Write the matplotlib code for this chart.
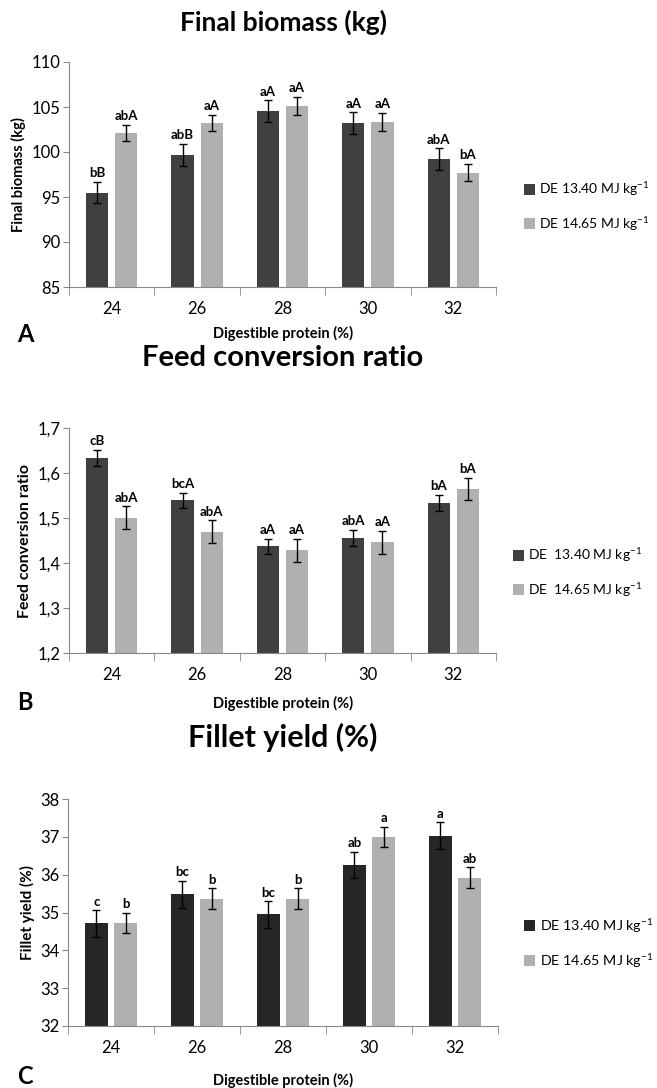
import numpy as np
import matplotlib.pyplot as plt

plt.rcParams['font.family'] = ['Lato', 'DejaVu Sans']
plt.rcParams['mathtext.fontset'] = 'custom'
plt.rcParams['mathtext.rm'] = 'Lato'
plt.rcParams['mathtext.bf'] = 'Lato:bold'

protein = ['24', '26', '28', '30', '32']

# A - final biomass
bio_13 = [95.5, 99.7, 104.55, 103.2, 99.2]
bio_13_err = [1.2, 1.2, 1.2, 1.2, 1.2]
bio_14 = [102.15, 103.2, 105.15, 103.35, 97.7]
bio_14_err = [0.9, 0.9, 1.0, 1.0, 0.95]
bio_13_lab = ['bB', 'abB', 'aA', 'aA', 'abA']
bio_14_lab = ['abA', 'aA', 'aA', 'aA', 'bA']

# B - feed conversion ratio
fcr_13 = [1.633, 1.539, 1.437, 1.456, 1.533]
fcr_13_err = [0.018, 0.017, 0.017, 0.018, 0.018]
fcr_14 = [1.501, 1.470, 1.428, 1.446, 1.565]
fcr_14_err = [0.025, 0.025, 0.026, 0.025, 0.025]
fcr_13_lab = ['cB', 'bcA', 'aA', 'abA', 'bA']
fcr_14_lab = ['abA', 'abA', 'aA', 'aA', 'bA']

# C - fillet yield
fil_13 = [34.71, 35.48, 34.95, 36.25, 37.03]
fil_13_err = [0.35, 0.35, 0.35, 0.35, 0.35]
fil_14 = [34.73, 35.37, 35.37, 36.99, 35.92]
fil_14_err = [0.26, 0.27, 0.27, 0.27, 0.27]
fil_13_lab = ['c', 'bc', 'bc', 'ab', 'a']
fil_14_lab = ['b', 'b', 'b', 'a', 'ab']

W, H = 657, 1088
fig = plt.figure(figsize=(W / 100, H / 100), dpi=100)


def px(x0, y0, x1, y1):
    return [x0 / W, 1 - y1 / H, (x1 - x0) / W, (y1 - y0) / H]


def panel(rect, d13, e13, d14, e14, l13, l14, ylim, yticks, ytl, ylab, ylabsize,
          dark, light, leg13, leg14, legx, legy, legsize, title, tsize, ty,
          letter, lety, xly, laboff):
    ax = fig.add_axes(px(*rect))
    x = np.arange(len(protein))
    bw = 0.26
    off = 0.17
    ax.bar(x - off, d13, bw, color=dark, label=leg13, zorder=2)
    ax.bar(x + off, d14, bw, color=light, label=leg14, zorder=2)
    ek = dict(fmt='none', ecolor='black', elinewidth=1, capsize=3, capthick=1, zorder=3)
    ax.errorbar(x - off, d13, yerr=e13, **ek)
    ax.errorbar(x + off, d14, yerr=e14, **ek)
    for i in range(len(protein)):
        ax.text(x[i] - off, d13[i] + e13[i] + laboff, l13[i], ha='center', va='bottom',
                fontsize=9.5, fontweight='bold')
        ax.text(x[i] + off, d14[i] + e14[i] + laboff, l14[i], ha='center', va='bottom',
                fontsize=9.5, fontweight='bold')
    ax.set_xlim(-0.5, len(protein) - 0.5)
    ax.set_ylim(*ylim)
    ax.set_yticks(yticks)
    ax.set_yticklabels(ytl, fontsize=12)
    ax.set_xticks(x)
    ax.set_xticklabels(protein, fontsize=12)
    ax.set_xticks(np.arange(len(protein) + 1) - 0.5, minor=True)
    ax.tick_params(axis='x', which='major', length=0, pad=10)
    ax.tick_params(axis='x', which='minor', length=6, color='#888888', direction='out')
    ax.tick_params(axis='y', length=4, color='#888888', pad=2)
    for s in ['top', 'right']:
        ax.spines[s].set_visible(False)
    for s in ['left', 'bottom']:
        ax.spines[s].set_color('#888888')
    ax.set_ylabel(ylab, fontsize=ylabsize, fontweight='bold', labelpad=4)
    ax.legend(loc='center left', bbox_to_anchor=(legx / W, 1 - legy / H),
              bbox_transform=fig.transFigure, frameon=False, fontsize=legsize,
              handlelength=0.8, handleheight=0.8, handletextpad=0.3,
              labelspacing=1.15, borderaxespad=0, borderpad=0)
    fig.text(283 / W, 1 - ty / H, title, ha='center', va='center', fontsize=tsize, fontweight='bold')
    fig.text(25 / W, 1 - lety / H, letter, ha='center', va='center', fontsize=17, fontweight='bold')
    fig.text(283 / W, 1 - xly / H, 'Digestible protein (%)', ha='center', va='center',
             fontsize=10.5, fontweight='bold')
    return ax


panel((69, 62, 496, 287), bio_13, bio_13_err, bio_14, bio_14_err, bio_13_lab, bio_14_lab,
      (85, 110), [85, 90, 95, 100, 105, 110], ['85', '90', '95', '100', '105', '110'],
      'Final biomass (kg)', 10.5, '#404040', '#b0b0b0',
      r'DE 13.40 MJ kg$^{-1}$', r'DE 14.65 MJ kg$^{-1}$', 524, 206, 10,
      'Final biomass (kg)', 19, 22, 'A', 334, 333, 0.3)

panel((69, 428, 496, 653), fcr_13, fcr_13_err, fcr_14, fcr_14_err, fcr_13_lab, fcr_14_lab,
      (1.2, 1.7), [1.2, 1.3, 1.4, 1.5, 1.6, 1.7], ['1,2', '1,3', '1,4', '1,5', '1,6', '1,7'],
      'Feed conversion ratio', 11.5, '#404040', '#b0b0b0',
      r'DE  13.40 MJ kg$^{-1}$', r'DE  14.65 MJ kg$^{-1}$', 513, 572, 10,
      'Feed conversion ratio', 21, 358, 'B', 702, 703, 0.006)

panel((68, 799, 498, 1026), fil_13, fil_13_err, fil_14, fil_14_err, fil_13_lab, fil_14_lab,
      (32, 38), [32, 33, 34, 35, 36, 37, 38], ['32', '33', '34', '35', '36', '37', '38'],
      'Fillet yield (%)', 11, '#262626', '#b0b0b0',
      r'DE 13.40 MJ kg$^{-1}$', r'DE 14.65 MJ kg$^{-1}$', 524, 943, 10.3,
      'Fillet yield (%)', 22, 737, 'C', 1076, 1080, 0.07)

fig.savefig('out.png', dpi=100)
